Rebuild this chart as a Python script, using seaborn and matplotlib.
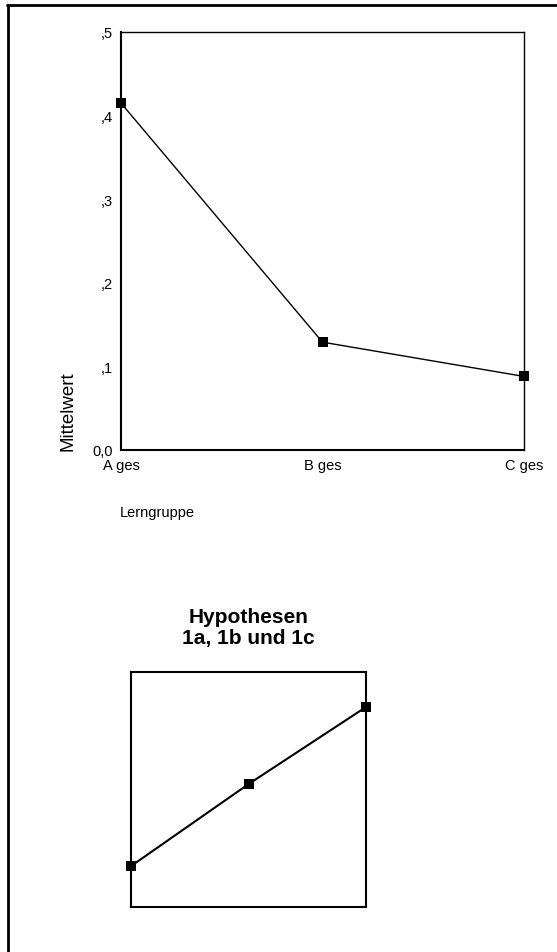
import matplotlib
matplotlib.use("Agg")
import matplotlib.pyplot as plt
from matplotlib.lines import Line2D
import seaborn as sns
import pandas as pd

# Mean per learning group
groups = ["A ges", "B ges", "C ges"]
means = [0.415, 0.129, 0.088]

# Schematic expectation for hypotheses 1a-1c (no scale)
hyp_steps = [0, 1, 2]
hyp_values = [0.174, 0.523, 0.851]

y_ticks = [0.0, 0.1, 0.2, 0.3, 0.4, 0.5]
y_tick_labels = ["0,0", ",1", ",2", ",3", ",4", ",5"]

sns.set_theme(style="white")
plt.rcParams["font.family"] = ["Liberation Sans", "DejaVu Sans"]

W, H = 557, 953
fig = plt.figure(figsize=(W / 100, H / 100), dpi=100)
fig.patch.set_facecolor("white")


def box(left, top, right, bottom):
    return [left / W, 1 - bottom / H, (right - left) / W, (bottom - top) / H]


# Page frame (top and left rule)
fig.add_artist(Line2D([7 / W, 1.0], [1 - 5.5 / H, 1 - 5.5 / H],
                      transform=fig.transFigure, color="black", lw=2.0))
fig.add_artist(Line2D([7.5 / W, 7.5 / W], [0.0, 1 - 5.5 / H],
                      transform=fig.transFigure, color="black", lw=2.0))

# Main line chart
ax = fig.add_axes(box(121, 33, 524, 451))
df = pd.DataFrame({"Lerngruppe": groups, "Mittelwert": means})
sns.lineplot(data=df, x="Lerngruppe", y="Mittelwert", ax=ax, color="black",
             lw=1.0, marker="s", markersize=6.5, markeredgewidth=0,
             sort=False, clip_on=False)
ax.set_xlim(0, len(groups) - 1)
ax.set_ylim(0, 0.5)
ax.set_yticks(y_ticks)
ax.set_yticklabels(y_tick_labels)
ax.set_xticks(range(len(groups)))
ax.set_xticklabels(groups)
ax.set_xlabel("")
ax.set_ylabel("")
for side in ["left", "bottom"]:
    ax.spines[side].set_linewidth(1.5)
for side in ["top", "right"]:
    ax.spines[side].set_linewidth(1.0)
for sp in ax.spines.values():
    sp.set_color("black")
    sp.set_visible(True)
ax.tick_params(axis="both", direction="out", length=2.5, width=2.5,
               color="black", labelsize=10.5, labelcolor="black")
ax.tick_params(axis="y", pad=3.5)
ax.tick_params(axis="x", pad=3)
ax.grid(False)

fig.text(120 / W, 1 - 513 / H, "Lerngruppe", ha="left", va="center",
         fontsize=10.5, color="black")
fig.text(68 / W, 1 - 451 / H, "Mittelwert", rotation=90, ha="center",
         va="bottom", fontsize=13.5, color="black")

# Hypothesis sketch
ax2 = fig.add_axes(box(131, 673, 366, 908))
hdf = pd.DataFrame({"step": hyp_steps, "value": hyp_values})
sns.lineplot(data=hdf, x="step", y="value", ax=ax2, color="black", lw=1.5,
             marker="s", markersize=6.5, markeredgewidth=0, clip_on=False)
ax2.set_xlim(0, 2)
ax2.set_ylim(0, 1)
ax2.set_xticks([])
ax2.set_yticks([])
ax2.set_xlabel("")
ax2.set_ylabel("")
for sp in ax2.spines.values():
    sp.set_color("black")
    sp.set_linewidth(1.5)
    sp.set_visible(True)

fig.text(248.5 / W, 1 - 648 / H, "Hypothesen\n1a, 1b und 1c", ha="center",
         va="bottom", fontsize=15, fontweight="bold", color="black",
         linespacing=1.15)

fig.savefig("out.png", dpi=100, facecolor="white")
